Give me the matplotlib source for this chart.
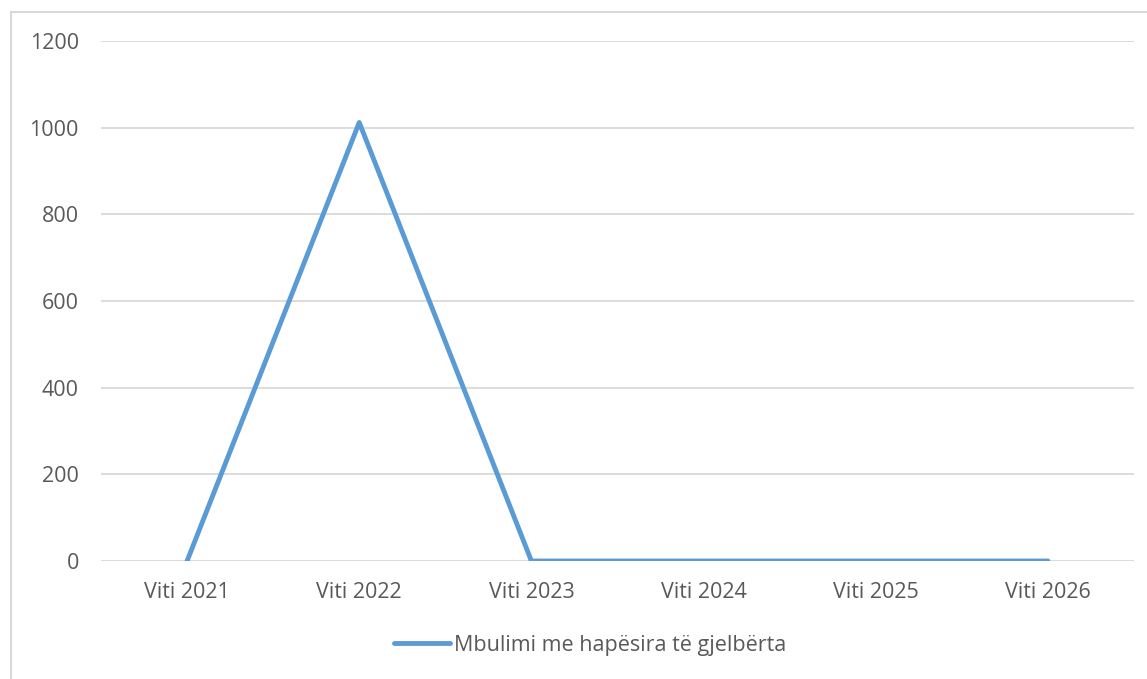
import matplotlib
matplotlib.use("Agg")
import matplotlib.pyplot as plt
from matplotlib.patches import Rectangle

categories = ["Viti 2021", "Viti 2022", "Viti 2023", "Viti 2024", "Viti 2025", "Viti 2026"]
values = [0, 1012, 0, 0, 0, 0]
series_name = "Mbulimi me hapësira të gjelbërta"
yticks = [0, 200, 400, 600, 800, 1000, 1200]

W, H = 1147, 679
fig = plt.figure(figsize=(W / 100, H / 100), dpi=100)
plt.rcParams['font.family'] = ['Open Sans', 'DejaVu Sans']
txt = '#595959'
fs = 15.5

# outer chart border (cropped on right/bottom)
fig.patches.append(Rectangle((11 / W, -0.1), 2.0, (1 - 12 / H) + 0.1, transform=fig.transFigure,
                             fill=False, edgecolor='#D9D9D9', linewidth=1.5, zorder=0))

ax = fig.add_axes([101 / W, 1 - 561 / H, (1134 - 101) / W, (561 - 41) / H])
x = list(range(len(categories)))
ax.plot(x, values, color='#5B9BD5', linewidth=3.5, solid_capstyle='round',
        solid_joinstyle='round', label=series_name, zorder=3)
ax.set_xlim(-0.5, len(categories) - 0.5)
ax.set_ylim(0, 1200)
ax.set_yticks(yticks)
ax.set_yticklabels([str(v) for v in yticks])
ax.set_xticks(x)
ax.set_xticklabels(categories)
ax.grid(axis='y', color='#D9D9D9', linewidth=1.3, zorder=0)
for s in ax.spines.values():
    s.set_visible(False)
ax.tick_params(axis='both', length=0, labelsize=fs, colors=txt)
ax.tick_params(axis='y', pad=16)
ax.tick_params(axis='x', pad=15)

leg = fig.legend(loc='center', bbox_to_anchor=(590 / W, 1 - 645 / H), frameon=False,
                 fontsize=fs, handlelength=2.6, handletextpad=0.2, labelcolor=txt)
fig.savefig("out.png", dpi=100)
